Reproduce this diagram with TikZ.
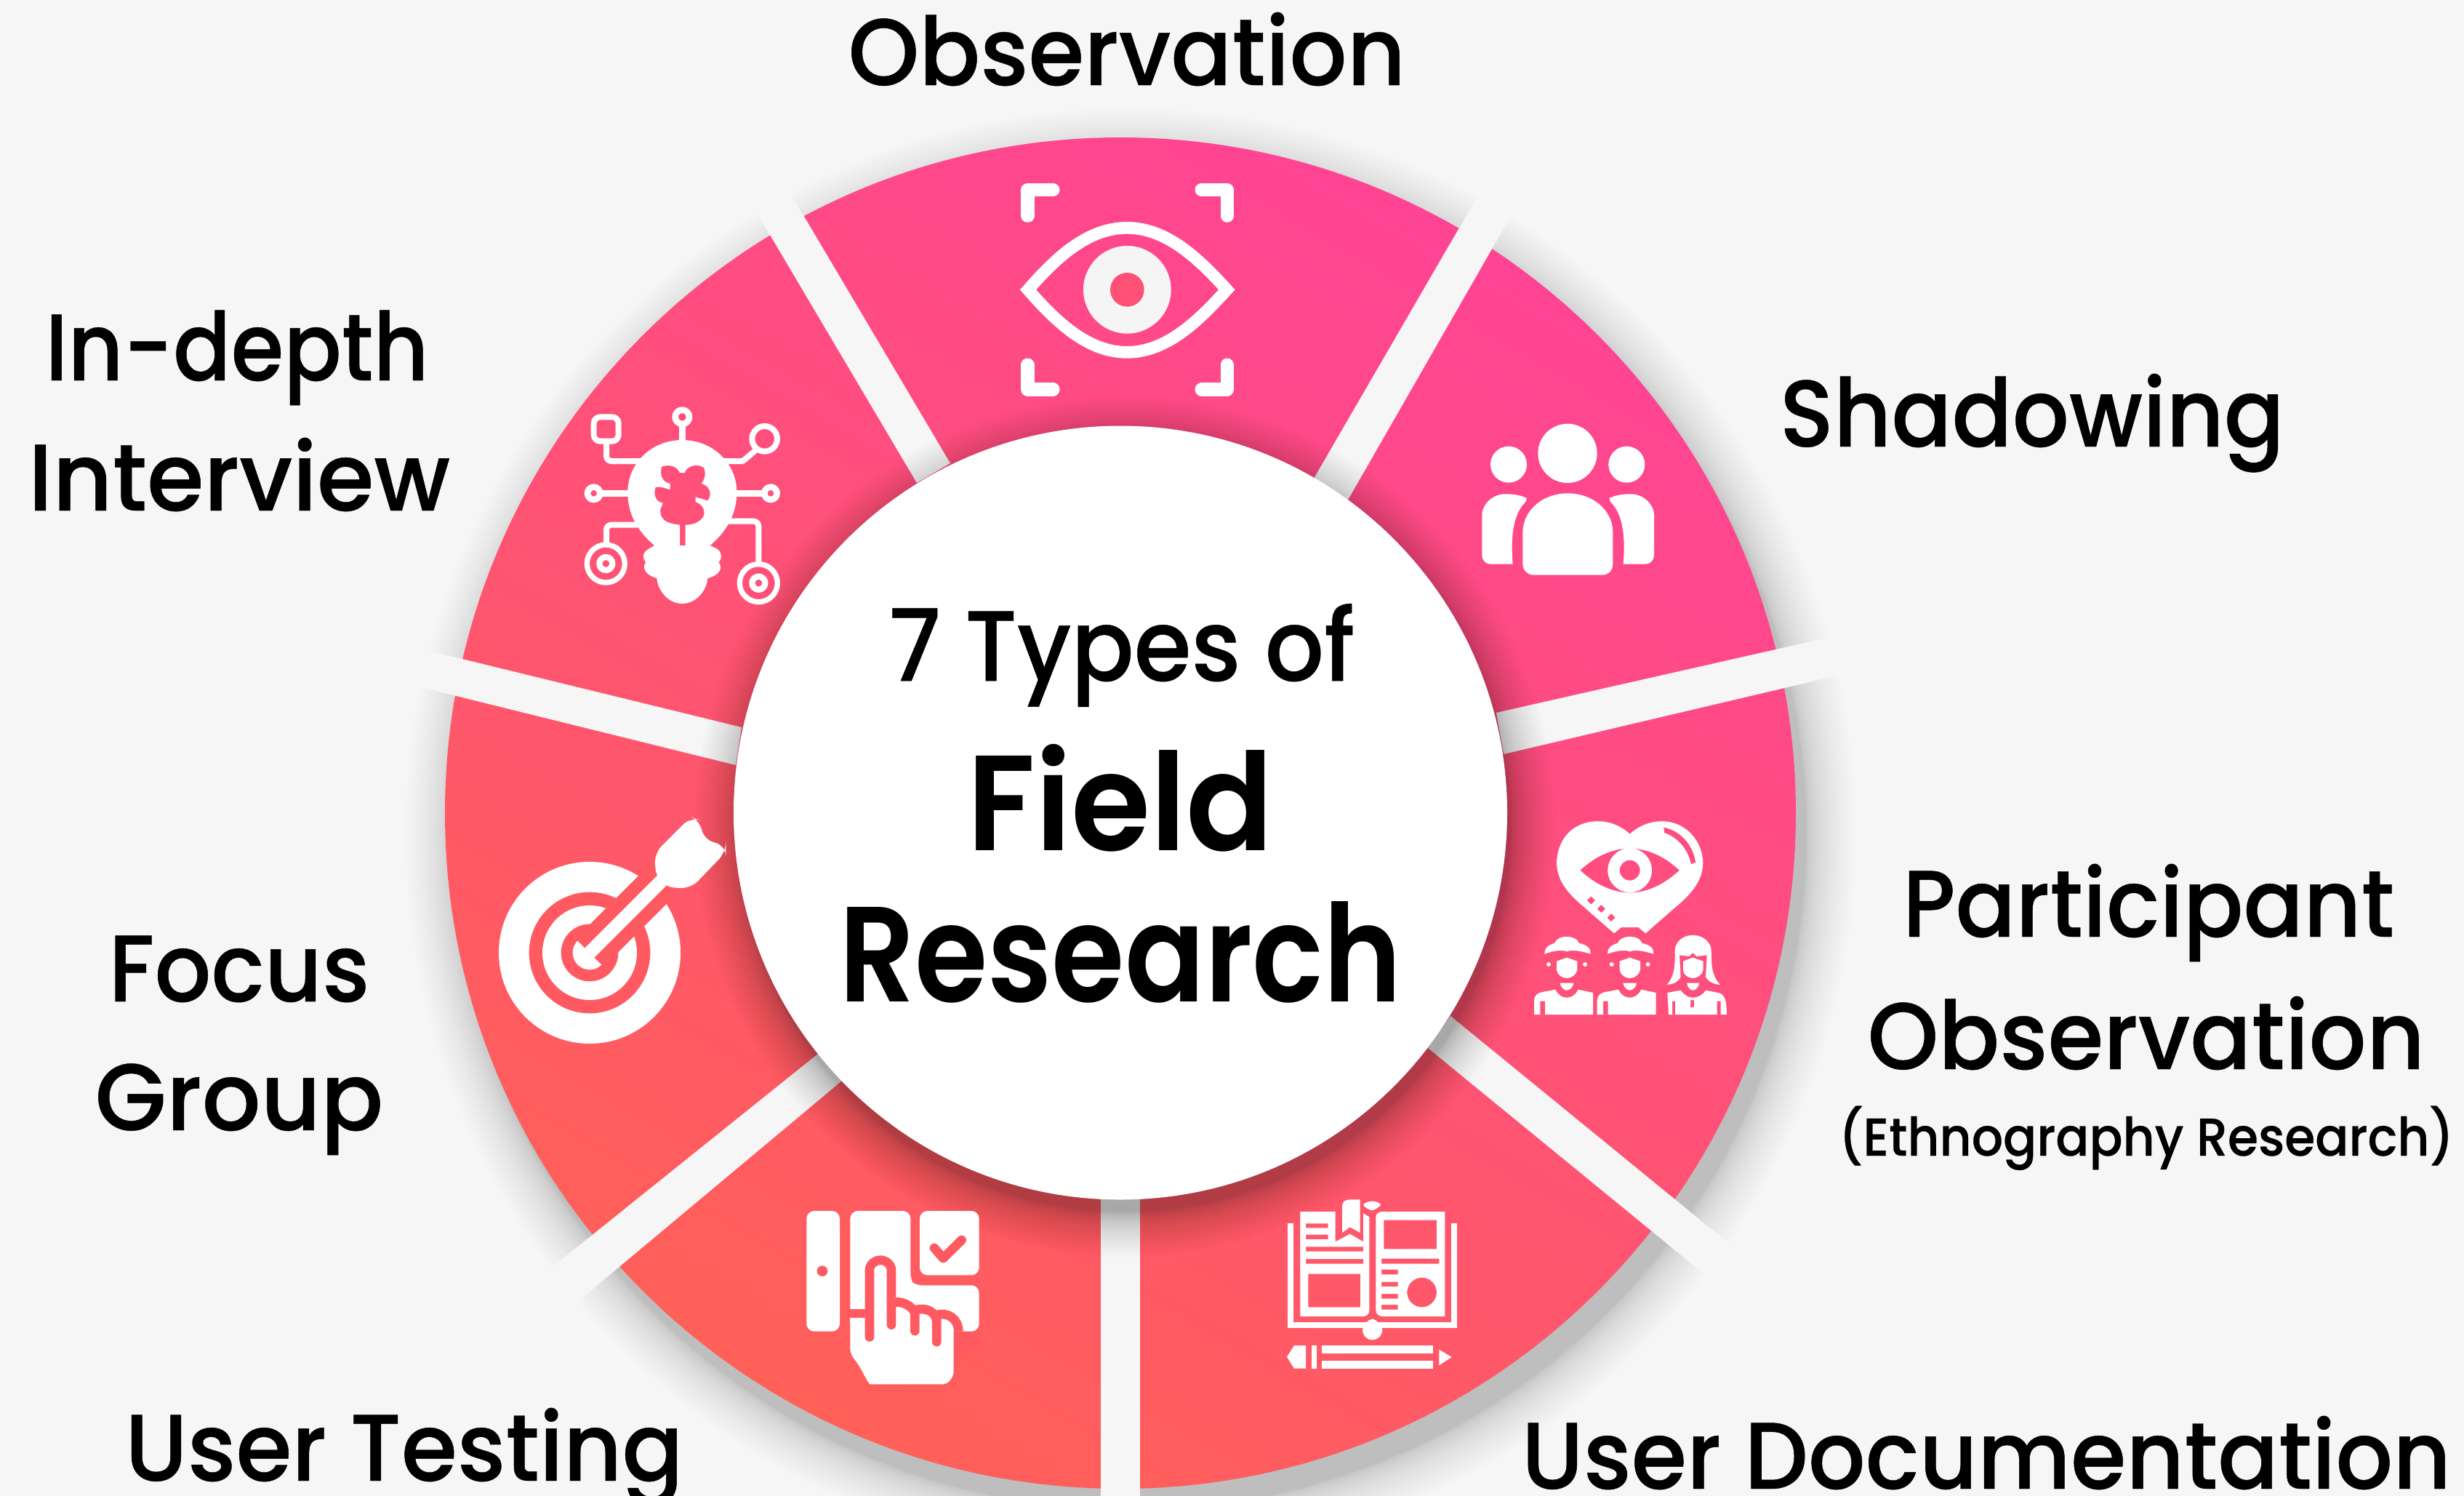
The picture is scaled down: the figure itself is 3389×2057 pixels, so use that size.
\documentclass[tikz,border=0pt]{standalone}
\usepackage{graphicx}
\usepackage{fontspec}
\setmainfont{Poppins}[UprightFont=* Medium,BoldFont=* SemiBold,FakeStretch=0.93,UprightFeatures={FakeBold=0.35}]
\definecolor{bgc}{HTML}{F6F6F6}
\definecolor{pinkA}{HTML}{FF4494}
\definecolor{pinkB}{HTML}{FF6058}
\definecolor{pinkLow}{HTML}{FF5A61}
\tikzset{
  lw/.style={line width=#1*0.0948pt},
  ic/.style={fill=white,even odd rule},
  st/.style={draw=white,line cap=round,line join=round,fill=none},
  gap/.style={fill=bgc,draw=none},
  lab/.style={anchor=base,inner sep=0pt,text=black,font=\fontsize{#1}{#1}\selectfont},
  labb/.style={anchor=base,inner sep=0pt,text=black,font=\fontsize{#1}{#1}\selectfont\bfseries},
}
\newcommand{\sx}[2]{\scalebox{#1}[1]{#2}}
\newcommand{\iconman}[1]{%
\begin{scope}[shift={(#1,0)}]
\fill[white] (133,635) .. controls (133,600) and (165,595) .. (175,590) .. controls (185,555) and (265,555) .. (275,590) .. controls (290,595) and (325,600) .. (323,635) .. controls (290,625) and (250,615) .. (225,625) .. controls (200,615) and (160,625) .. (133,635) -- cycle;
\fill[white] (183,665) -- (225,650) -- (268,665) -- (268,700) .. controls (265,720) and (245,735) .. (225,735) .. controls (205,735) and (185,720) .. (183,700) -- cycle;
\fill[white] (150,678) circle [radius=9];
\fill[white] (300,678) circle [radius=9];
\fill[white] (197,755) -- (253,755) .. controls (250,775) and (235,785) .. (225,785) .. controls (215,785) and (200,775) .. (197,755) -- cycle;
\fill[ic] (90,885) -- (90,825) .. controls (92,805) and (105,795) .. (125,792) -- (178,782) .. controls (190,805) and (205,815) .. (225,815) .. controls (245,815) and (260,805) .. (272,782) -- (333,795) -- (333,885) -- cycle (115,885) rectangle (135,830);
\end{scope}}
\begin{document}
\begin{tikzpicture}[x=0.01cm,y=-0.01cm]
\useasboundingbox (0,0) rectangle (3389,2057);
\fill[bgc] (0,0) rectangle (3389,2057);
% outer shadow
\foreach \i in {1,...,28}{
  \fill[black,fill opacity=0.0088] (1555,1146) circle [radius={929+68*pow(\i/28,1.9)}];
}
% ring
\shade[shading=axis,bottom color=pinkB,top color=pinkA,shading angle=-30] (1541,1118) circle [radius=929];
% spokes
\fill[gap] (1514,1500) rectangle (1568,2057);
\fill[gap] (1995,1397) -- (2480,1793) -- (2448,1837) -- (1964,1441) -- cycle;
\fill[gap] (1059,323) -- (1261,664) -- (1307,637) -- (1105,296) -- (1010,140) -- (965,166) -- cycle;
\fill[gap] (1807,658) -- (2060,222) -- (2105,250) -- (1853,689) -- cycle;
\fill[gap] (2058,980) -- (2610,855) -- (2620,907) -- (2068,1037) -- cycle;
\fill[gap] (1130,1445) -- (700,1790) -- (738,1837) -- (1158,1486) -- cycle;
\fill[gap] (1020,1000) -- (480,868) -- (470,918) -- (1012,1052) -- cycle;
% hub shadow
\foreach \i in {1,...,26}{
  \fill[black,fill opacity=0.0100] (1547,1136) circle [radius={530+62*pow(\i/26,1.7)}];
}
\fill[white] (1541,1117.5) circle [radius=532];
\node[lab=37pt] (obs) at (1550,117) {\sx{1.026}{Observation}};
\node[lab=37pt] (sha) at (2795,614) {\sx{1.013}{Shadowing}};
\node[lab=37pt] (ind) at (326,523) {\sx{0.97}{In-depth}};
\node[lab=37pt] (int) at (329,702) {\sx{1.05}{Interview}};
\node[lab=37pt] (par) at (2955,1288) {\sx{1.01}{Participant}};
\node[lab=37pt] (obt) at (2952,1470) {\sx{1.026}{Observation}};
\node[lab=20.8pt] (eth) at (2952,1589) {(Ethnography Research)};
\node[lab=37pt] (foc) at (329,1377) {\sx{1.01}{Focus}};
\node[lab=37pt] (gro) at (329,1554) {\sx{1.05}{Group}};
\node[lab=37pt] (ute) at (556,2036) {\sx{1.03}{User Testing}};
\node[lab=37pt] (udo) at (2732,2047) {\sx{1.02}{User Documentation}};
\node[lab=39pt] (typ) at (1543,936) {7 Types of};
\node[labb=53pt] (fie) at (1541,1169) {\sx{1.02}{Field}};
\node[labb=53pt] (res) at (1541,1377) {\sx{0.937}{Research}};
% icon 1 eye
\begin{scope}[shift={(1340,200)},scale=0.33333]
\draw[st,lw=55] (220,290) -- (220,183) -- (325,183);
\draw[st,lw=55] (1043,290) -- (1043,183) -- (938,183);
\draw[st,lw=55] (220,905) -- (220,1006) -- (325,1006);
\draw[st,lw=55] (1043,905) -- (1043,1006) -- (938,1006);
\draw[st,lw=50,line join=miter] (222,595) .. controls (340,460) and (470,340) .. (630,340) .. controls (790,340) and (920,460) .. (1042,595) .. controls (920,730) and (790,853) .. (630,853) .. controls (470,853) and (340,730) .. (222,595) -- cycle;
\fill[white!96!black] (631,595) circle [radius=181];
\fill[pinkLow!60!pinkA] (631,595) circle [radius=70];
\end{scope}
% icon 2 bulb
\begin{scope}[shift={(760,520)},scale=0.33333]
\fill[ic] (420,690) .. controls (350,630) and (310,560) .. (310,470) .. controls (310,350) and (410,255) .. (535,255) .. controls (660,255) and (760,350) .. (760,470) .. controls (760,560) and (720,630) .. (650,690) -- (680,705) .. controls (700,720) and (700,745) .. (685,760) .. controls (700,775) and (700,810) .. (640,825) .. controls (635,880) and (590,930) .. (535,930) .. controls (480,930) and (435,880) .. (430,825) .. controls (375,810) and (370,775) .. (385,760) .. controls (370,745) and (370,720) .. (395,705) -- cycle
(525,690) -- (525,605) .. controls (480,600) and (440,590) .. (445,540) .. controls (450,525) and (455,525) .. (455,515) .. controls (425,510) and (415,480) .. (425,450) .. controls (440,445) and (470,455) .. (485,460) -- (485,435) .. controls (460,430) and (440,410) .. (450,365) .. controls (480,355) and (510,360) .. (525,390) -- (545,390) .. controls (555,360) and (600,350) .. (625,370) .. controls (635,400) and (625,420) .. (615,435) .. controls (650,445) and (660,480) .. (640,505) -- (590,490) -- (590,510) .. controls (620,520) and (635,550) .. (620,575) .. controls (600,600) and (570,605) .. (548,605) -- (548,690) -- cycle;
\draw[st,lw=26] (535,260) -- (535,190);
\draw[st,lw=26] (535,160) circle [radius=29];
\draw[st,lw=24,rounded corners=2pt] (375,342) -- (222,342) -- (222,265);
\draw[st,lw=24,rounded corners=2.5pt] (170,160) rectangle (272,260);
\draw[st,lw=24] (700,342) -- (785,342) -- (835,300);
\draw[st,lw=24] (875,250) circle [radius=52];
\draw[st,lw=26] (315,475) -- (195,475);
\draw[st,lw=26] (170,475) circle [radius=26];
\draw[st,lw=26] (755,475) -- (875,475);
\draw[st,lw=26] (900,475) circle [radius=26];
\draw[st,lw=24,rounded corners=2pt] (360,605) -- (222,605) -- (222,680);
\draw[st,lw=22] (220,765) circle [radius=78];
\draw[st,lw=25] (220,765) circle [radius=27];
\draw[st,lw=24,rounded corners=2pt] (720,590) -- (850,590) -- (850,760);
\draw[st,lw=22] (850,845) circle [radius=78];
\draw[st,lw=25] (850,845) circle [radius=27];
\end{scope}
% icon 3 people
\begin{scope}[shift={(1990,540)},scale=0.33333]
\fill[white] (255,296) circle [radius=75];
\fill[white] (498,250) circle [radius=122];
\fill[white] (742,296) circle [radius=75];
\fill[white] (313,705) -- (313,570) .. controls (318,480) and (400,415) .. (498,415) .. controls (600,415) and (680,480) .. (685,570) -- (685,705) .. controls (685,735) and (665,752) .. (640,752) -- (360,752) .. controls (335,752) and (313,735) .. (313,705) -- cycle;
\fill[white] (145,670) -- (145,500) .. controls (150,450) and (200,415) .. (245,418) .. controls (280,418) and (310,425) .. (330,435) -- (325,450) .. controls (285,490) and (260,560) .. (272,707) -- (180,707) .. controls (160,707) and (145,690) .. (145,670) -- cycle;
\fill[white] (855,670) -- (855,500) .. controls (850,450) and (800,415) .. (755,418) .. controls (720,418) and (690,425) .. (670,435) -- (675,450) .. controls (715,490) and (740,560) .. (728,707) -- (820,707) .. controls (840,707) and (855,690) .. (855,670) -- cycle;
\end{scope}
% icon 4 participant
\begin{scope}[shift={(2080,1100)},scale=0.33333]
\fill[ic] (485,140) .. controls (440,100) and (390,85) .. (340,88) .. controls (240,95) and (185,170) .. (183,260) .. controls (185,340) and (240,395) .. (300,445) -- (420,550) -- (450,525) -- (520,525) -- (550,550) -- (670,445) .. controls (730,395) and (785,340) .. (787,260) .. controls (785,170) and (720,95) .. (630,88) .. controls (580,85) and (530,100) .. (485,140) -- cycle
(280,290) .. controls (350,225) and (420,200) .. (485,200) .. controls (550,200) and (620,225) .. (690,290) .. controls (620,355) and (550,382) .. (485,382) .. controls (420,382) and (350,355) .. (280,290) -- cycle
(485,290) circle [radius=91]
(485,290) circle [radius=42]
(625,113) .. controls (690,125) and (745,180) .. (757,258) -- (738,265) .. controls (725,205) and (685,155) .. (627,135) -- cycle
(325,397) -- (342,414) -- (325,431) -- (308,414) -- cycle
(367,432) -- (384,449) -- (367,466) -- (350,449) -- cycle
(408,468) -- (425,485) -- (408,502) -- (391,485) -- cycle;
\iconman{0}
\iconman{260}
\fill[ic] (638,762) .. controls (680,715) and (668,650) .. (672,610) .. controls (690,540) and (800,540) .. (820,610) .. controls (825,650) and (812,715) .. (858,762) .. controls (830,760) and (810,750) .. (798,730) -- (803,640) -- (760,645) -- (745,630) -- (730,645) -- (690,640) -- (695,730) .. controls (685,750) and (665,760) .. (638,762) -- cycle;
\fill[white] (705,665) -- (745,650) -- (788,665) -- (788,700) .. controls (785,720) and (765,735) .. (745,735) .. controls (725,735) and (705,720) .. (705,700) -- cycle;
\fill[white] (720,755) -- (772,755) .. controls (768,775) and (755,785) .. (745,785) .. controls (735,785) and (724,775) .. (720,755) -- cycle;
\fill[ic] (645,885) -- (640,795) -- (695,785) .. controls (710,805) and (725,815) .. (745,815) .. controls (765,815) and (785,805) .. (798,785) -- (850,795) .. controls (875,800) and (885,825) .. (885,885) -- cycle
(735,825) -- (735,855) -- (750,855) -- (750,825) -- cycle (672,885) rectangle (660,830) (860,885) rectangle (845,830);
\end{scope}
% icon 5 book
\begin{scope}[shift={(1740,1630)},scale=0.33333]
\draw[draw=white,lw=25,line join=miter] (105,155) -- (105,575) -- (780,575) -- (780,155);
\fill[ic] (145,108) -- (290,108) -- (290,232) -- (350,200) -- (405,232) -- (405,115) -- (430,130) -- (430,515) .. controls (430,530) and (420,540) .. (405,540) -- (145,540) -- cycle
(168,157) rectangle (260,175) (168,203) rectangle (260,222) (168,253) rectangle (405,272) (168,303) rectangle (405,323) (178,365) rectangle (393,502);
\fill[white] (318,195) -- (318,85) .. controls (318,65) and (335,58) .. (350,58) -- (392,58) -- (392,195) -- (350,172) -- cycle;
\fill[ic] (457,130) .. controls (457,115) and (470,108) .. (485,108) -- (742,108) -- (742,540) -- (485,540) .. controls (470,540) and (457,530) .. (457,515) -- cycle
(490,143) rectangle (708,262) (480,302) rectangle (718,323) (480,347) rectangle (548,367) (480,398) rectangle (548,417) (480,447) rectangle (548,467) (480,492) rectangle (548,512)
(647,441) circle [radius=61];
\fill[white] (405,80) .. controls (420,60) and (465,60) .. (478,80) .. controls (465,95) and (450,100) .. (442,103) .. controls (430,100) and (415,95) .. (405,80) -- cycle;
\fill[white] (402,598) .. controls (405,570) and (425,555) .. (443,550) .. controls (460,555) and (480,570) .. (484,598) .. controls (480,625) and (460,637) .. (443,637) .. controls (425,637) and (405,625) .. (402,598) -- cycle;
\fill[white] (90,707) -- (120,660) -- (168,660) -- (168,755) -- (120,755) -- cycle;
\fill[white] (192,660) rectangle (212,755);
\fill[white] (235,660) rectangle (692,693);
\fill[white] (235,722) rectangle (692,755);
\fill[white] (718,677) -- (770,708) -- (718,742) -- cycle;
\end{scope}
% icon 6 testing
\begin{scope}[shift={(1090,1640)},scale=0.33333]
\fill[white,rounded corners=3pt] (58,75) rectangle (195,572);
\fill[pinkLow] (123,323) circle [radius=22];
\fill[white,rounded corners=3pt] (238,75) -- (487,75) -- (487,365) -- (500,382) -- (770,382) -- (770,572) -- (238,572) -- cycle;
\fill[white,rounded corners=3pt] (525,75) -- (770,75) -- (770,340) -- (525,340) -- cycle;
\draw[draw=pinkLow,lw=38,line cap=round,line join=round] (585,228) -- (622,270) -- (698,195);
\fill[white] (238,500) -- (705,500) -- (665,740) .. controls (660,770) and (640,790) .. (620,790) -- (320,790) .. controls (300,770) and (285,720) .. (250,680) .. controls (240,665) and (238,650) .. (238,640) -- cycle;
\fill[pinkLow] (705,572) rectangle (780,640);
\fill[pinkLow] (665,572) -- (705,572) -- (705,640) -- (665,740) -- cycle;
\draw[draw=pinkLow,lw=38,line cap=round,line join=round] (238,498) -- (318,498);
\draw[draw=pinkLow,lw=38,line cap=round,line join=round] (318,595) -- (318,320) .. controls (318,295) and (340,278) .. (362,278) .. controls (385,278) and (408,295) .. (408,320) -- (408,545);
\draw[draw=pinkLow,lw=38,line cap=round,line join=round] (408,455) .. controls (450,440) and (500,470) .. (505,500) -- (505,570);
\draw[draw=pinkLow,lw=38,line cap=round,line join=round] (505,485) .. controls (550,470) and (590,490) .. (595,530) -- (595,615);
\draw[draw=pinkLow,lw=38,line cap=butt,line join=round] (595,505) .. controls (640,490) and (685,520) .. (685,572);
\end{scope}
% icon 7 target
\begin{scope}[shift={(670,1100)},scale=0.33333]
\fill[white] (423,630) circle [radius=375];
\fill[pinkLow] (423,630) circle [radius=250];
\fill[white] (423,630) circle [radius=195];
\fill[pinkLow] (423,630) circle [radius=118];
\fill[white] (423,630) circle [radius=70];
\fill[pinkLow] (365,572) -- (481,688) -- (800,369) -- (684,253) -- cycle;
\draw[draw=white,lw=56] (423,630) -- (730,323);
\fill[white,rounded corners=4pt] (690,220) -- (840,70) -- (880,85) -- (890,160) -- (985,190) -- (985,215) -- (840,365) -- (735,360) -- (697,320) -- cycle;
\end{scope}
\end{tikzpicture}
\end{document}
